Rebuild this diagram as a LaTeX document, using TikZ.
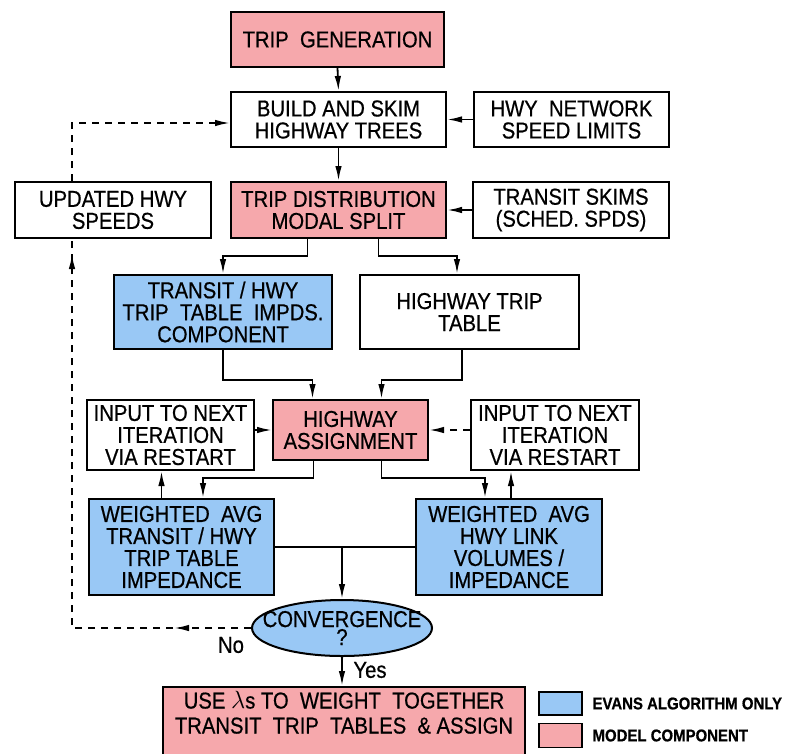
\documentclass[tikz,border=0pt]{standalone}
\usepackage{fontspec}
\setmainfont{Liberation Sans}[FakeStretch=0.88,FakeBold=0.6]
\usetikzlibrary{arrows.meta,calc,shapes.geometric,decorations.markings}
\definecolor{pinkc}{RGB}{246,168,172}
\definecolor{bluec}{RGB}{153,200,245}
\tikzset{
  bx/.style={draw, line width=2pt, align=center, inner sep=0pt},
  pk/.style={bx, fill=pinkc},
  bl/.style={bx, fill=bluec},
  conn/.style={line width=1.8pt},
  tip/.tip={Latex[length=15pt,width=6.5pt]},
  arr/.style={conn, -tip},
  dsh/.style={conn, dash pattern=on 7pt off 6pt},
}
\begin{document}
\begin{tikzpicture}[x=1pt,y=-1pt,font=\fontsize{23}{22}\selectfont]
\fill[white] (0,0) rectangle (791,753);
\useasboundingbox (0,0) rectangle (791,753);
\coordinate (lx) at (72,0);

% nodes
\node[pk, minimum width=213pt, minimum height=55pt] (gen) at (337.5,39.5) {TRIP\ \ GENERATION};
\node[bx, minimum width=215pt, minimum height=55pt] (build) at (338.5,119.5) {BUILD AND SKIM\\HIGHWAY TREES};
\node[bx, minimum width=195pt, minimum height=55pt] (hwy) at (571.5,119.5) {HWY\ \ NETWORK\\SPEED LIMITS};
\node[bx, minimum width=196pt, minimum height=56pt] (upd) at (113,210) {UPDATED HWY\\SPEEDS};
\node[pk, minimum width=215pt, minimum height=56pt] (dist) at (338.5,210) {TRIP DISTRIBUTION\\MODAL SPLIT};
\node[bx, minimum width=196pt, minimum height=56pt] (skims) at (571,210) {TRANSIT SKIMS\\(SCHED. SPDS)};
\node[bl, minimum width=218pt, minimum height=74pt] (thtt) at (223,312) {TRANSIT / HWY\\TRIP\ \ TABLE\ \ IMPDS.\\COMPONENT};
\node[bx, minimum width=219pt, minimum height=74pt] (htt) at (469.5,312) {HIGHWAY TRIP\\TABLE};
\node[pk, minimum width=155pt, minimum height=60pt] (assign) at (350.5,430) {HIGHWAY\\ASSIGNMENT};
\node[bx, minimum width=167pt, minimum height=70pt] (inl) at (170.5,435) {INPUT TO NEXT\\ITERATION\\VIA RESTART};
\node[bx, minimum width=168pt, minimum height=70pt] (inr) at (555,435) {INPUT TO NEXT\\ITERATION\\VIA RESTART};
\node[bl, minimum width=185pt, minimum height=96pt] (wl) at (181.5,547) {WEIGHTED\ \ AVG\\TRANSIT / HWY\\TRIP TABLE\\IMPEDANCE};
\node[bl, minimum width=186pt, minimum height=96pt] (wr) at (509,547) {WEIGHTED\ \ AVG\\HWY LINK\\VOLUMES /\\IMPEDANCE};
\node[draw, line width=2pt, fill=bluec, ellipse, inner xsep=-16pt, inner ysep=0pt, minimum width=180pt, minimum height=56pt, align=center] (conv) at (342,628) {CONVERGENCE\\[-4pt]?};
\node[pk, minimum width=362pt, minimum height=80pt, anchor=north] (final) at (344,686) {};
\node[align=center, font=\fontsize{23}{25}\selectfont] (finaltxt) at (344,712.5) {USE $\lambda$s TO\ \ WEIGHT\ \ TOGETHER\\TRANSIT\ \ TRIP\ \ TABLES\ \ \&\ ASSIGN};
\node (yes) at (370,670) {Yes};
\node (no) at (231,645) {No};

% legend
\node[bl, line width=1.6pt, minimum width=43pt, minimum height=23pt] (lg1) at (560.5,703.5) {};
\node[anchor=west, font=\bfseries\fontsize{17}{17}\selectfont] (lt1) at (589,703.5) {EVANS ALGORITHM ONLY};
\node[pk, line width=1.6pt, minimum width=43pt, minimum height=24pt] (lg2) at (560.5,735.5) {};
\node[anchor=west, font=\bfseries\fontsize{17}{17}\selectfont] (lt2) at (589,735.5) {MODEL COMPONENT};

% connectors
\draw[arr] (gen.south) -- (build.north);
\draw[arr] (build.south) -- (dist.north);
\draw[arr] (hwy.west) -- (build.east);
\draw[arr] (skims.west) -- (dist.east);
\draw[arr] ($(dist.south)+(-31,0)$) -- ++(0,17) -| (thtt.north);
\draw[arr] ($(dist.south)+(40,0)$) -- ++(0,17) -| ($(htt.north)+(-12.5,0)$);
\draw[arr] (thtt.south) -- ++(0,30) -| ($(assign.north)+(-38,0)$);
\draw[arr] ($(htt.south)+(-7.5,0)$) -- ++(0,30) -| ($(assign.north)+(31,0)$);
\draw[arr] (inl.east |- assign.west) -- (assign.west);
\draw[dsh, -tip] (inr.west |- assign.east) -- (assign.east);
\draw[arr] ($(assign.south)+(-37,0)$) -- ++(0,17) -| ($(wl.north)+(21.5,0)$);
\draw[arr] ($(assign.south)+(31,0)$) -- ++(0,17) -| ($(wr.north)+(-24,0)$);
\draw[arr] ($(wl.north)+(-20,0)$) coordinate (a1) -- (a1 |- inl.south);
\draw[arr] ($(wr.north)+(2,0)$) coordinate (a2) -- (a2 |- inr.south);
\draw[conn] (wl.east) -- (wr.west);
\draw[arr] (conv.north |- wl.east) -- (conv.north);
\draw[arr] (conv.south) -- (conv.south |- final.north);
\draw[dsh, postaction={decorate}, decoration={markings,
    mark=at position 77pt with {\arrow{tip}},
    mark=at position 553pt with {\arrow{tip}}}]
  (conv.west) -- (conv.west -| lx) -- (upd.south -| lx);
\draw[dsh, -tip] (upd.north -| lx) -- (lx |- {$(build.west)+(0,3.5)$}) -- ($(build.west)+(0,3.5)$);
\end{tikzpicture}
\end{document}
